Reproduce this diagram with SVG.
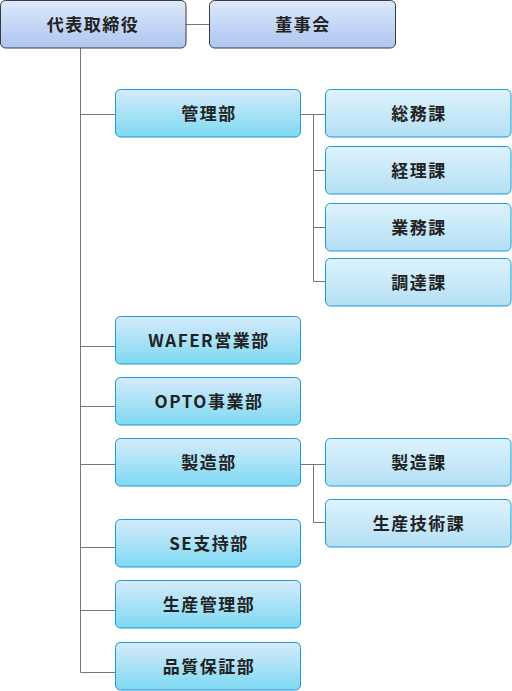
<svg xmlns="http://www.w3.org/2000/svg" width="512" height="691" viewBox="0 0 512 691">
<style>
.top{fill:url(#gTop);stroke:#3a3a3a;stroke-width:1}
.dept{fill:url(#gDept);stroke:#1b9ad6;stroke-width:1}
.sub{fill:url(#gSub);stroke:#1b9ad6;stroke-width:1}
text{font-family:"Noto Sans CJK JP","Noto Sans",sans-serif;font-weight:bold;font-size:17px;fill:#222;text-anchor:middle;dominant-baseline:central;letter-spacing:1.5px}
.ln{fill:none;stroke:#777;stroke-width:1}
</style>
<defs>
<linearGradient id="gTop" x1="0" y1="0" x2="0" y2="1"><stop offset="0" stop-color="#dde9fb"/><stop offset="1" stop-color="#adc5f0"/></linearGradient>
<linearGradient id="gDept" x1="0" y1="0" x2="0" y2="1"><stop offset="0" stop-color="#d6ebfb"/><stop offset="1" stop-color="#7dd9f2"/></linearGradient>
<linearGradient id="gSub" x1="0" y1="0" x2="0" y2="1"><stop offset="0" stop-color="#def3fd"/><stop offset="1" stop-color="#b3dff4"/></linearGradient>
</defs>
<g id="connectors">
<path class="ln" d="M186 24.5H209.5"/>
<path class="ln" d="M80.5 48V672.5"/>
<path class="ln" d="M80.5 114.5H115.5M80.5 346.5H115.5M80.5 406.5H115.5M80.5 464.5H115.5M80.5 547.5H115.5M80.5 610.5H115.5M80.5 672.5H115.5"/>
<path class="ln" d="M300.5 114.5H325.5M313.5 114.5V281.5M313.5 170.5H325.5M313.5 227.5H325.5M313.5 281.5H325.5"/>
<path class="ln" d="M300.5 464.5H325.5M313.5 464.5V522.5H325.5"/>
</g>
<g id="ceo"><rect class="top" x="0.5" y="0.5" width="185.5" height="47.5" rx="5"/><text x="93" y="23.5">代表取締役</text></g>
<g id="board"><rect class="top" x="209.5" y="0.5" width="186" height="47.5" rx="5"/><text x="303" y="23.5">董事会</text></g>
<g id="kanri"><rect class="dept" x="115.5" y="89.5" width="185" height="47.5" rx="5"/><text x="209" y="112.5">管理部</text></g>
<g id="somu"><rect class="sub" x="325.5" y="89.5" width="185.5" height="47.5" rx="5"/><text x="419" y="112.5">総務課</text></g>
<g id="keiri"><rect class="sub" x="325.5" y="146.5" width="185.5" height="47.5" rx="5"/><text x="419" y="169.5">経理課</text></g>
<g id="gyomu"><rect class="sub" x="325.5" y="203.5" width="185.5" height="47.5" rx="5"/><text x="419" y="226.5">業務課</text></g>
<g id="chotatsu"><rect class="sub" x="325.5" y="258.5" width="185.5" height="47.5" rx="5"/><text x="419" y="281.5">調達課</text></g>
<g id="wafer"><rect class="dept" x="115.5" y="316.5" width="185" height="47.5" rx="5"/><text x="209" y="339.5">WAFER営業部</text></g>
<g id="opto"><rect class="dept" x="115.5" y="377.5" width="185" height="47.5" rx="5"/><text x="209" y="400.5">OPTO事業部</text></g>
<g id="seizo"><rect class="dept" x="115.5" y="438.5" width="185" height="47.5" rx="5"/><text x="209" y="461.5">製造部</text></g>
<g id="seizoka"><rect class="sub" x="325.5" y="438.5" width="185.5" height="47.5" rx="5"/><text x="419" y="461.5">製造課</text></g>
<g id="gijutsu"><rect class="sub" x="325.5" y="499.5" width="185.5" height="47.5" rx="5"/><text x="419" y="522.5">生産技術課</text></g>
<g id="se"><rect class="dept" x="115.5" y="519.5" width="185" height="47.5" rx="5"/><text x="209" y="542.5">SE支持部</text></g>
<g id="seisankanri"><rect class="dept" x="115.5" y="580.5" width="185" height="47.5" rx="5"/><text x="209" y="603.5">生産管理部</text></g>
<g id="hinshitsu"><rect class="dept" x="115.5" y="642.5" width="185" height="47.5" rx="5"/><text x="209" y="665.5">品質保証部</text></g>
</svg>
